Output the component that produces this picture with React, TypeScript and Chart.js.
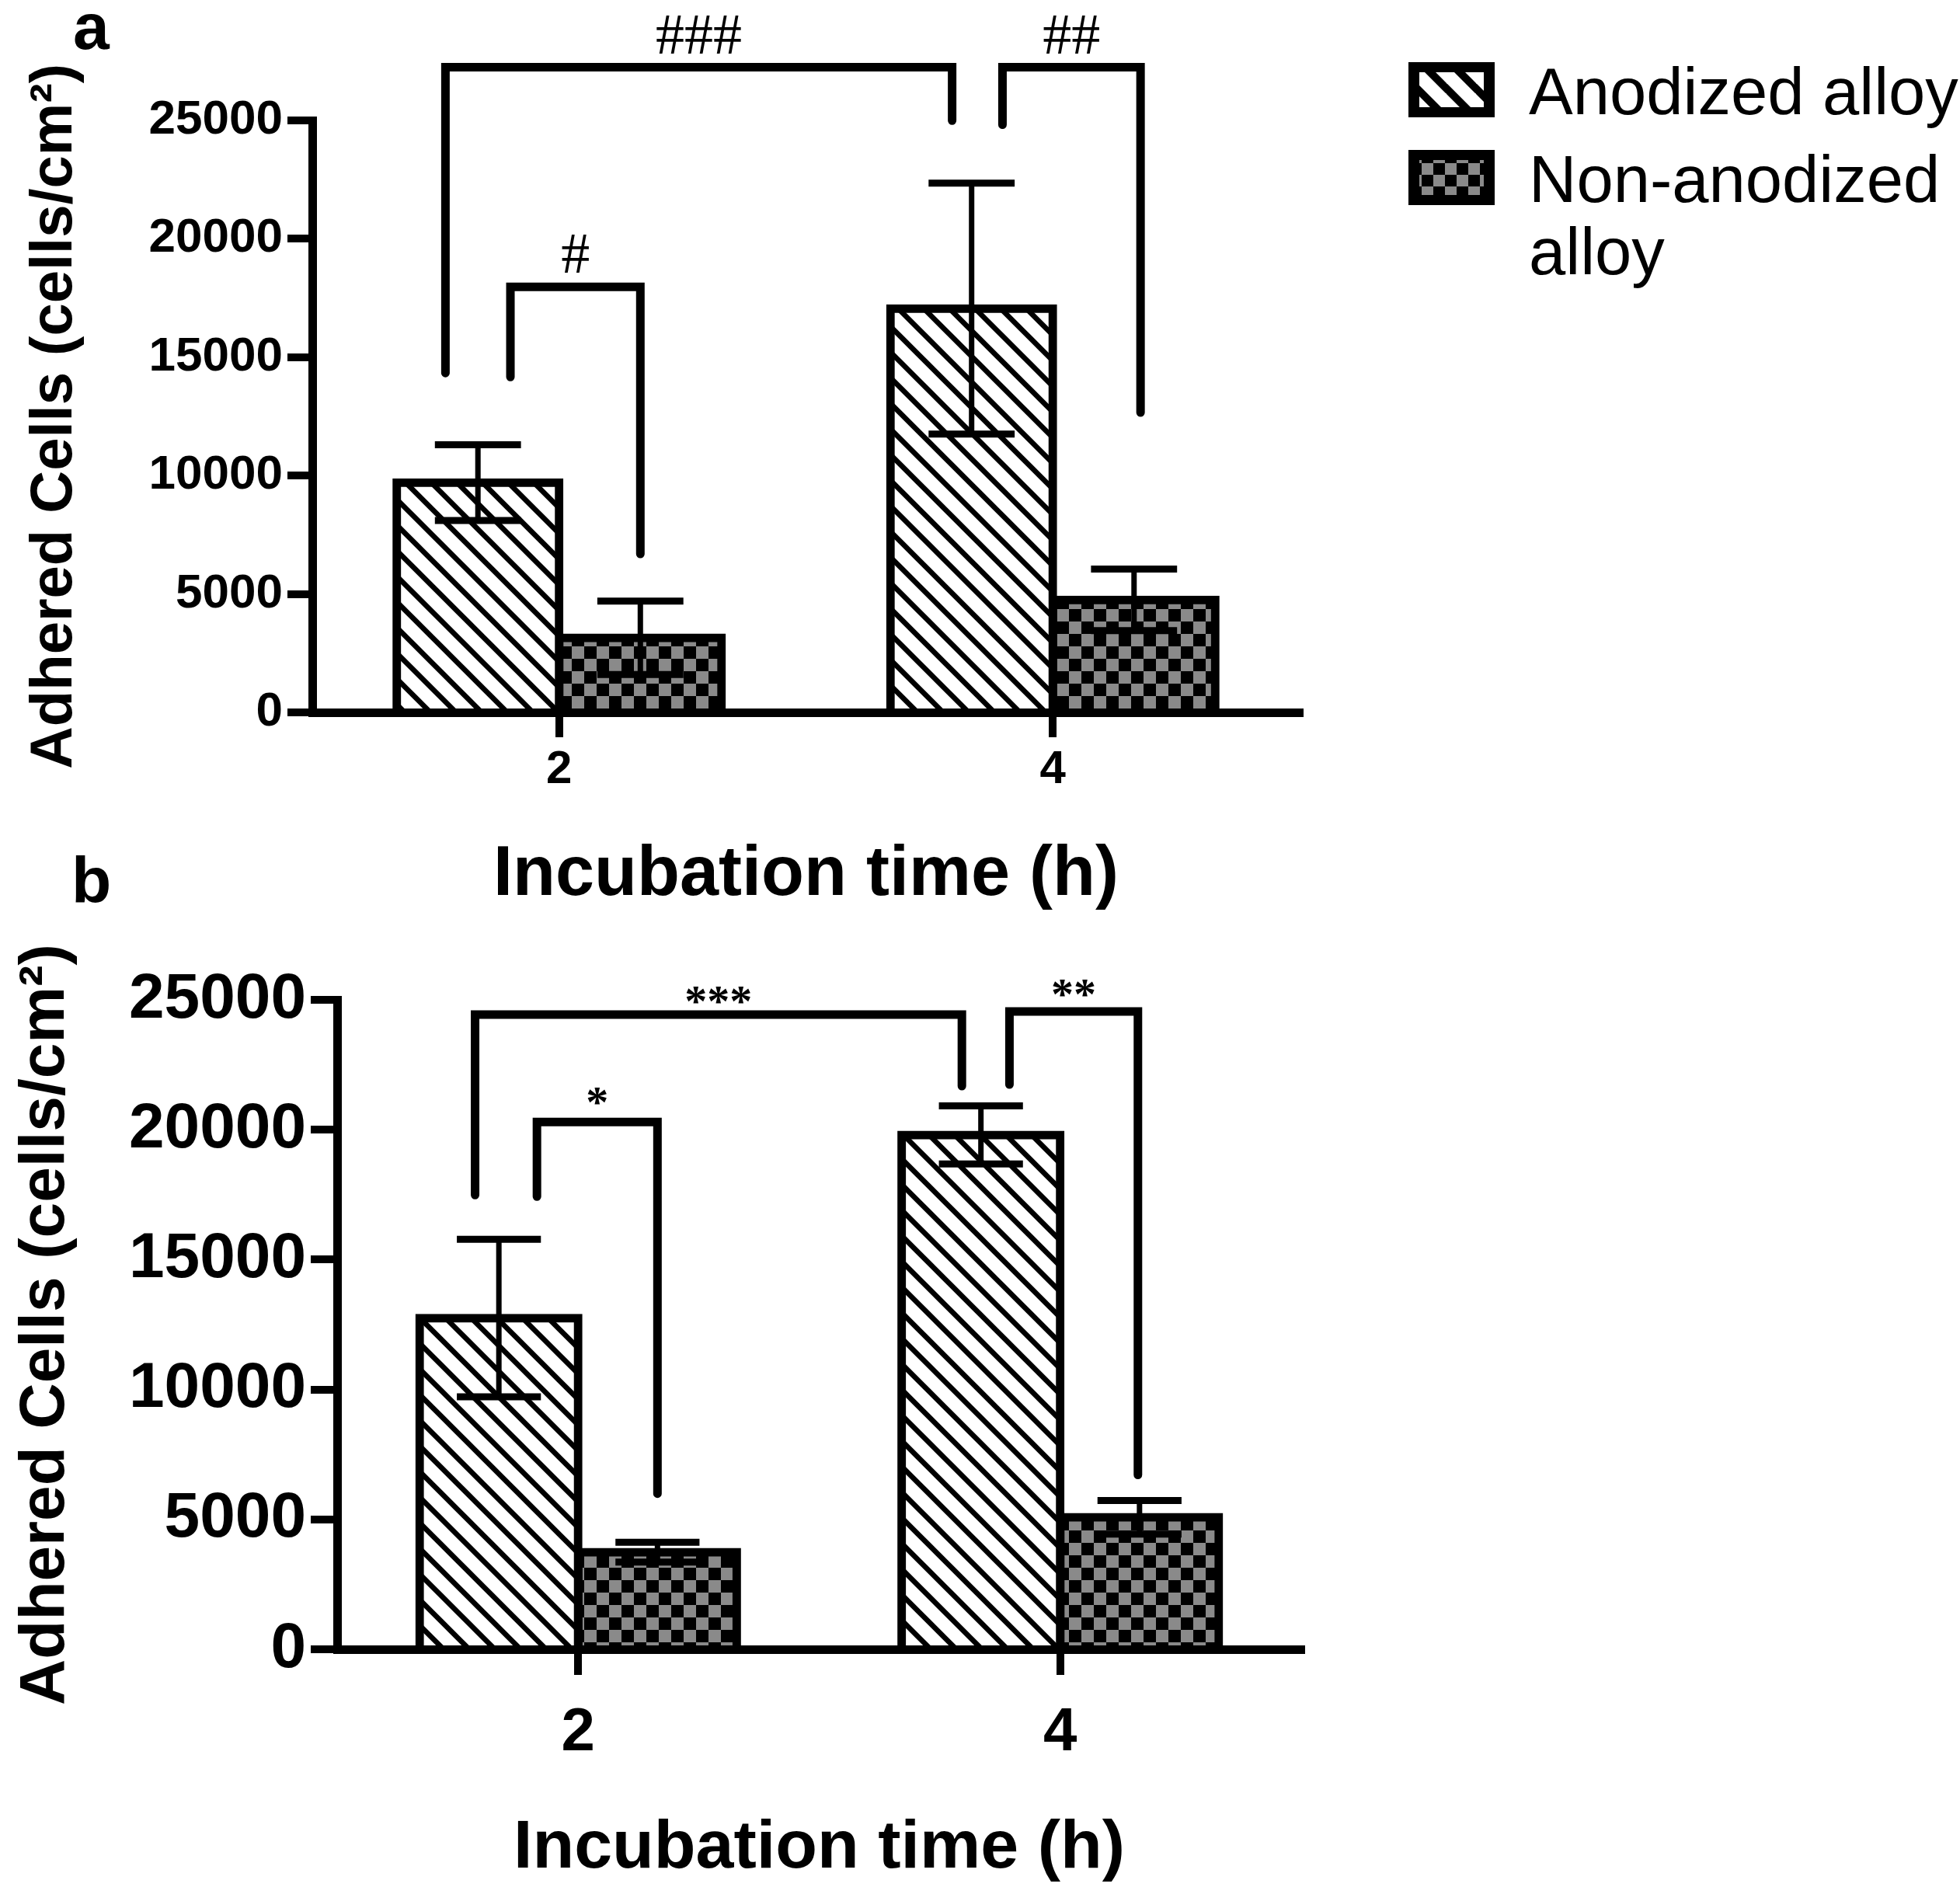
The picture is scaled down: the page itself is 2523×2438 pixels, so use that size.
import { useEffect, useRef } from 'react';
import { Chart, registerables } from 'chart.js';

Chart.register(...registerables);

// ---------------- data ----------------
const CATEGORIES = ['2', '4'];
const SERIES_LABELS = ['Anodized alloy', 'Non-anodized alloy'];
const LEGEND_LINES = [['Anodized alloy'], ['Non-anodized', 'alloy']];
const Y_TICKS = [0, 5000, 10000, 15000, 20000, 25000];
const Y_TITLE = 'Adhered Cells (cells/cm\u00B2)';
const X_TITLE = 'Incubation time (h)';

// panel a
const A_ANODIZED = [9700, 17050];
const A_ANODIZED_SD = [1600, 5300];
const A_NON_ANODIZED = [3150, 4750];
const A_NON_ANODIZED_SD = [1550, 1300];

// panel b
const B_ANODIZED = [12750, 19800];
const B_ANODIZED_SD = [3030, 1120];
const B_NON_ANODIZED = [3740, 5080];
const B_NON_ANODIZED_SD = [380, 650];

// significance brackets: [datasetIndex, categoryIndex] of both ends, bracket height and leg ends (data units)
const A_BRACKET_LABELS = ['###', '##', '#'];
const A_BRACKET_FROM = [[0, 0], [0, 1], [0, 0]];
const A_BRACKET_TO = [[0, 1], [1, 1], [1, 0]];
const A_BRACKET_TOP = [27250, 27250, 17970];
const A_BRACKET_FROM_END = [14330, 24820, 14165];
const A_BRACKET_TO_END = [24990, 12660, 6690];

const B_BRACKET_LABELS = ['***', '**', '*'];
const B_BRACKET_FROM = [[0, 0], [0, 1], [0, 0]];
const B_BRACKET_TO = [[0, 1], [1, 1], [1, 0]];
const B_BRACKET_TOP = [24430, 24550, 20300];
const B_BRACKET_FROM_END = [17485, 21740, 17425];
const B_BRACKET_TO_END = [21680, 6710, 5990];

// ---------------- styles ----------------
const SANS = "'Liberation Sans', Arial, Helvetica, sans-serif";
const SERIF = "'Liberation Serif', 'Times New Roman', serif";
const BLACK = '#000000';
const GRAY = '#8a8a8a';

type PanelCfg = {
  letter: string;
  top: number;
  width: number;
  height: number;
  area: { left: number; right: number; top: number; bottom: number };
  anod: number[];
  anodSd: number[];
  non: number[];
  nonSd: number[];
  brackets: {
    labels: string[];
    from: number[][];
    to: number[][];
    top: number[];
    fromEnd: number[];
    toEnd: number[];
  };
  bracketFromOff: number[];
  bracketToOff: number[];
  bracketTextOff: number[];
  bracketFont: { size: number; weight: string };
  yTickFont: number;
  yTickLen: number;
  yTickPad: number;
  xTickFont: number;
  xTickLen: number;
  xTickPad: number;
  yTitleFont: number;
  yTitlePad: number;
  xTitleFont: number;
  xTitlePad: number;
  letterPos: [number, number];
  legend: boolean;
};

const PANEL_A: PanelCfg = {
  letter: 'a',
  top: 0,
  width: 2523,
  height: 1200,
  area: { left: 402, right: 1673, top: 155, bottom: 917 },
  anod: A_ANODIZED,
  anodSd: A_ANODIZED_SD,
  non: A_NON_ANODIZED,
  nonSd: A_NON_ANODIZED_SD,
  brackets: {
    labels: A_BRACKET_LABELS,
    from: A_BRACKET_FROM,
    to: A_BRACKET_TO,
    top: A_BRACKET_TOP,
    fromEnd: A_BRACKET_FROM_END,
    toEnd: A_BRACKET_TO_END,
  },
  bracketFromOff: [-0.2, 0.19, 0.2],
  bracketToOff: [-0.12, 0.04, 0],
  bracketTextOff: [42, 42, 43],
  bracketFont: { size: 74, weight: 'normal' },
  yTickFont: 62,
  yTickLen: 32,
  yTickPad: 6,
  xTickFont: 60,
  xTickLen: 32,
  xTickPad: 12,
  yTitleFont: 76,
  yTitlePad: 33,
  xTitleFont: 90,
  xTitlePad: 28,
  letterPos: [94, 63],
  legend: true,
};

const PANEL_B: PanelCfg = {
  letter: 'b',
  top: 1090,
  width: 1780,
  height: 1348,
  area: { left: 434, right: 1675, top: 197, bottom: 1033 },
  anod: B_ANODIZED,
  anodSd: B_ANODIZED_SD,
  non: B_NON_ANODIZED,
  nonSd: B_NON_ANODIZED_SD,
  brackets: {
    labels: B_BRACKET_LABELS,
    from: B_BRACKET_FROM,
    to: B_BRACKET_TO,
    top: B_BRACKET_TOP,
    fromEnd: B_BRACKET_FROM_END,
    toEnd: B_BRACKET_TO_END,
  },
  bracketFromOff: [-0.15, 0.18, 0.24],
  bracketToOff: [-0.12, -0.01, 0],
  bracketTextOff: [25, 30, 33],
  bracketFont: { size: 58, weight: 'bold' },
  yTickFont: 82,
  yTickLen: 34,
  yTickPad: 6,
  xTickFont: 78,
  xTickLen: 33,
  xTickPad: 36,
  yTitleFont: 82,
  yTitlePad: 18,
  xTitleFont: 88,
  xTitlePad: 14,
  letterPos: [92, 72],
  legend: false,
};

// ---------------- patterns ----------------
function makeHatch(ctx: CanvasRenderingContext2D, period: number, lw: number) {
  const c = document.createElement('canvas');
  c.width = period;
  c.height = period;
  const g = c.getContext('2d')!;
  g.fillStyle = '#ffffff';
  g.fillRect(0, 0, period, period);
  g.strokeStyle = BLACK;
  g.lineWidth = lw;
  g.beginPath();
  for (const k of [-1, 0, 1]) {
    g.moveTo(-3, k * period - 3);
    g.lineTo(period + 3, k * period + period + 3);
  }
  g.stroke();
  return ctx.createPattern(c, 'repeat')!;
}

function makeChecker(ctx: CanvasRenderingContext2D, cell: number) {
  const c = document.createElement('canvas');
  c.width = cell * 2;
  c.height = cell * 2;
  const g = c.getContext('2d')!;
  g.fillStyle = BLACK;
  g.fillRect(0, 0, cell * 2, cell * 2);
  g.fillStyle = GRAY;
  g.fillRect(0, 0, cell, cell);
  g.fillRect(cell, cell, cell, cell);
  return ctx.createPattern(c, 'repeat')!;
}

// ---------------- plugins ----------------
function errorBarPlugin(sds: number[][]) {
  return {
    id: 'errorBars',
    afterDatasetsDraw(chart: any) {
      const ctx: CanvasRenderingContext2D = chart.ctx;
      const y = chart.scales.y;
      chart.data.datasets.forEach((ds: any, di: number) => {
        const meta = chart.getDatasetMeta(di);
        meta.data.forEach((bar: any, i: number) => {
          const v = ds.data[i] as number;
          const sd = sds[di][i];
          const yTop = y.getPixelForValue(v + sd);
          const yBot = y.getPixelForValue(v - sd);
          const half = (bar.width * 0.53) / 2;
          ctx.save();
          ctx.strokeStyle = BLACK;
          ctx.lineCap = 'butt';
          ctx.lineWidth = 7;
          ctx.beginPath();
          ctx.moveTo(bar.x, yTop);
          ctx.lineTo(bar.x, yBot);
          ctx.stroke();
          ctx.lineWidth = 9;
          ctx.beginPath();
          ctx.moveTo(bar.x - half, yTop);
          ctx.lineTo(bar.x + half, yTop);
          ctx.moveTo(bar.x - half, yBot);
          ctx.lineTo(bar.x + half, yBot);
          ctx.stroke();
          ctx.restore();
        });
      });
    },
  };
}

function bracketPlugin(cfg: PanelCfg) {
  return {
    id: 'brackets',
    afterDraw(chart: any) {
      const ctx: CanvasRenderingContext2D = chart.ctx;
      const y = chart.scales.y;
      const b = cfg.brackets;
      b.labels.forEach((label, k) => {
        const fb = chart.getDatasetMeta(b.from[k][0]).data[b.from[k][1]];
        const tb = chart.getDatasetMeta(b.to[k][0]).data[b.to[k][1]];
        const x1 = fb.x + cfg.bracketFromOff[k] * fb.width;
        const x2 = tb.x + cfg.bracketToOff[k] * tb.width;
        const yt = y.getPixelForValue(b.top[k]);
        const y1 = y.getPixelForValue(b.fromEnd[k]);
        const y2 = y.getPixelForValue(b.toEnd[k]);
        ctx.save();
        ctx.strokeStyle = BLACK;
        ctx.lineWidth = 11;
        ctx.lineCap = 'round';
        ctx.lineJoin = 'miter';
        ctx.beginPath();
        ctx.moveTo(x1, y1);
        ctx.lineTo(x1, yt);
        ctx.lineTo(x2, yt);
        ctx.lineTo(x2, y2);
        ctx.stroke();
        ctx.fillStyle = BLACK;
        ctx.font = `${cfg.bracketFont.weight} ${cfg.bracketFont.size}px ${SERIF}`;
        ctx.textAlign = 'center';
        ctx.textBaseline = 'alphabetic';
        const m = ctx.measureText(label);
        const target = yt - cfg.bracketTextOff[k];
        const base = target + (m.actualBoundingBoxAscent - m.actualBoundingBoxDescent) / 2;
        ctx.fillText(label, (x1 + x2) / 2, base);
        ctx.restore();
      });
    },
  };
}

function decorPlugin(cfg: PanelCfg, legendPatterns: CanvasPattern[]) {
  return {
    id: 'decor',
    afterDraw(chart: any) {
      const ctx: CanvasRenderingContext2D = chart.ctx;
      ctx.save();
      ctx.fillStyle = BLACK;
      ctx.font = `bold 84px ${SANS}`;
      ctx.textAlign = 'left';
      ctx.textBaseline = 'alphabetic';
      ctx.fillText(cfg.letter, cfg.letterPos[0], cfg.letterPos[1]);
      if (cfg.legend) {
        const bx = chart.chartArea.right + 140;
        const boxTops = [80, 193];
        const baselines = [[147], [260, 353]];
        LEGEND_LINES.forEach((lines, i) => {
          const by = boxTops[i];
          ctx.fillStyle = BLACK;
          ctx.fillRect(bx, by, 111, 71);
          ctx.fillStyle = legendPatterns[i];
          ctx.fillRect(bx + 14, by + 13, 111 - 28, 71 - 26);
          ctx.fillStyle = BLACK;
          ctx.font = `normal 85px ${SANS}`;
          lines.forEach((t, j) => ctx.fillText(t, bx + 155, baselines[i][j]));
        });
      }
      ctx.restore();
    },
  };
}

// ---------------- chart ----------------
function buildConfig(cfg: PanelCfg, canvas: HTMLCanvasElement) {
  const ctx = canvas.getContext('2d')!;
  const hatch = makeHatch(ctx, 33, 6.8);
  const checker = makeChecker(ctx, 16);
  const legendHatch = makeHatch(ctx, 38, 10);
  const legendChecker = makeChecker(ctx, 15);
  const { area } = cfg;
  const font = (size: number, weight = 'bold') => ({ family: SANS, size, weight, lineHeight: 1 });
  const barBorder = { top: 11, left: 11, right: 11, bottom: 0 };

  return {
    type: 'bar' as const,
    data: {
      labels: CATEGORIES,
      datasets: [
        {
          label: SERIES_LABELS[0],
          data: cfg.anod,
          backgroundColor: hatch,
          borderColor: BLACK,
          borderWidth: barBorder,
          borderSkipped: false,
          inflateAmount: 5.5,
          categoryPercentage: 0.658,
          barPercentage: 1,
        },
        {
          label: SERIES_LABELS[1],
          data: cfg.non,
          backgroundColor: checker,
          borderColor: BLACK,
          borderWidth: barBorder,
          borderSkipped: false,
          inflateAmount: 5.5,
          categoryPercentage: 0.658,
          barPercentage: 1,
        },
      ],
    },
    options: {
      responsive: false,
      animation: false as const,
      devicePixelRatio: 1,
      layout: {
        padding: { left: 0, top: area.top, right: cfg.width - area.right, bottom: 0 },
      },
      plugins: {
        legend: { display: false },
        tooltip: { enabled: false },
      },
      scales: {
        x: {
          type: 'category' as const,
          offset: true,
          afterFit: (s: any) => {
            s.height = cfg.height - area.bottom;
          },
          grid: {
            display: true,
            offset: false,
            drawOnChartArea: false,
            drawTicks: true,
            tickLength: cfg.xTickLen,
            tickWidth: 10,
            tickColor: BLACK,
            lineWidth: 10,
            color: BLACK,
          },
          border: { display: true, width: 11, color: BLACK },
          ticks: {
            color: BLACK,
            font: font(cfg.xTickFont),
            padding: cfg.xTickPad,
            maxRotation: 0,
            autoSkip: false,
          },
          title: {
            display: true,
            text: X_TITLE,
            color: BLACK,
            font: font(cfg.xTitleFont),
            padding: { top: 0, bottom: cfg.xTitlePad },
          },
        },
        y: {
          type: 'linear' as const,
          min: 0,
          max: 25000,
          afterFit: (s: any) => {
            s.width = area.left;
          },
          afterBuildTicks: (s: any) => {
            s.ticks = Y_TICKS.map((v) => ({ value: v }));
          },
          grid: {
            display: true,
            drawOnChartArea: false,
            drawTicks: true,
            tickLength: cfg.yTickLen,
            tickWidth: 10,
            tickColor: BLACK,
            lineWidth: 10,
            color: BLACK,
          },
          border: { display: true, width: 11, color: BLACK },
          ticks: {
            color: BLACK,
            font: font(cfg.yTickFont),
            padding: cfg.yTickPad,
            callback: (v: any) => String(v),
          },
          title: {
            display: true,
            text: Y_TITLE,
            color: BLACK,
            font: font(cfg.yTitleFont),
            padding: { top: cfg.yTitlePad, bottom: 0 },
          },
        },
      },
    },
    plugins: [
      errorBarPlugin([cfg.anodSd, cfg.nonSd]),
      bracketPlugin(cfg),
      decorPlugin(cfg, [legendHatch, legendChecker]),
    ],
  };
}

function Panel({ cfg }: { cfg: PanelCfg }) {
  const ref = useRef<HTMLCanvasElement>(null);
  useEffect(() => {
    const canvas = ref.current!;
    const chart = new Chart(canvas, buildConfig(cfg, canvas) as any);
    return () => chart.destroy();
  }, [cfg]);
  return (
    <canvas
      ref={ref}
      width={cfg.width}
      height={cfg.height}
      style={{ position: 'absolute', left: 0, top: cfg.top, width: cfg.width, height: cfg.height }}
    />
  );
}

export default function App() {
  return (
    <div
      style={{
        position: 'absolute',
        left: 0,
        top: 0,
        width: 2523,
        height: 2438,
        background: '#ffffff',
        overflow: 'hidden',
      }}
    >
      <Panel cfg={PANEL_A} />
      <Panel cfg={PANEL_B} />
    </div>
  );
}
